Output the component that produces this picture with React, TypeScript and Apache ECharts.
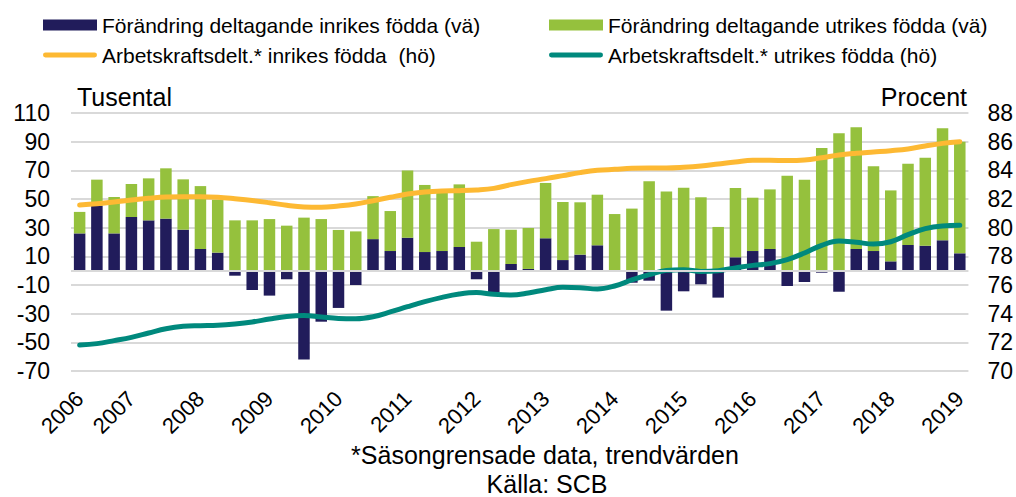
import React, { useEffect, useRef } from "react";
import * as echarts from "echarts";

const quarters = [
  "2006Q2", "2006Q3", "2006Q4",
  "2007Q1", "2007Q2", "2007Q3", "2007Q4",
  "2008Q1", "2008Q2", "2008Q3", "2008Q4",
  "2009Q1", "2009Q2", "2009Q3", "2009Q4",
  "2010Q1", "2010Q2", "2010Q3", "2010Q4",
  "2011Q1", "2011Q2", "2011Q3", "2011Q4",
  "2012Q1", "2012Q2", "2012Q3", "2012Q4",
  "2013Q1", "2013Q2", "2013Q3", "2013Q4",
  "2014Q1", "2014Q2", "2014Q3", "2014Q4",
  "2015Q1", "2015Q2", "2015Q3", "2015Q4",
  "2016Q1", "2016Q2", "2016Q3", "2016Q4",
  "2017Q1", "2017Q2", "2017Q3", "2017Q4",
  "2018Q1", "2018Q2", "2018Q3", "2018Q4",
  "2019Q1",
];

// Förändring deltagande inrikes födda (tusental, vänster axel)
const inrikesChange = [
  26, 45.3, 26, 37.4, 35.1, 36.3, 28.6, 15.1, 12.6, -3.5,
  -13.5, -17.4, -6, -61.9, -35.6, -26, -10, 22, 13.7, 23,
  13, 13.7, 16.5, -6, -15, 4.7, 1.2, 22.6, 7.4, 11.2,
  17.7, 0.3, -8.4, -7, -27.9, -14.4, -9.5, -18.8, 9.3, 13.7,
  15.1, -10.7, -7.9, -1.4, -14.7, 15.1, 13.7, 6.5, 17.9, 17.4,
  21.2, 12.1,
];

// Förändring deltagande utrikes födda (tusental, vänster axel)
const utrikesChange = [
  15, 18.2, 25.4, 23.1, 29.3, 35.1, 35.1, 43.9, 36.9, 35.1,
  35.1, 36, 31.4, 37, 36, 28.4, 27.4, 30, 27.9, 46.8,
  46.8, 41.3, 43.7, 20.2, 29, 23.9, 28.6, 38.6, 40.5, 36.5,
  35.3, 39.2, 43.3, 62.3, 55.3, 57.9, 51.2, 30.5, 48.4, 37.2,
  41.6, 66.3, 63.5, 85.6, 95.8, 84.9, 59.1, 49.5, 56.7, 61.4,
  78.1, 77.9,
];

// Arbetskraftsdeltagande inrikes födda (procent, höger axel)
const inrikesRate = [
  81.58, 81.67, 81.79, 81.93, 82.05, 82.14, 82.16, 82.16, 82.12, 82.02,
  81.9, 81.74, 81.56, 81.44, 81.42, 81.51, 81.65, 81.88, 82.12, 82.35,
  82.49, 82.56, 82.58, 82.63, 82.74, 83.0, 83.23, 83.42, 83.63, 83.84,
  84.0, 84.07, 84.14, 84.17, 84.16, 84.21, 84.3, 84.44, 84.58, 84.7,
  84.7, 84.68, 84.72, 84.88, 85.07, 85.19, 85.28, 85.37, 85.49, 85.7,
  85.88, 86.0,
];

// Arbetskraftsdeltagande utrikes födda (procent, höger axel)
const utrikesRate = [
  71.81, 71.91, 72.12, 72.35, 72.65, 72.95, 73.12, 73.16, 73.19, 73.28,
  73.42, 73.63, 73.81, 73.88, 73.77, 73.67, 73.65, 73.79, 74.12, 74.49,
  74.84, 75.14, 75.37, 75.47, 75.35, 75.3, 75.44, 75.67, 75.84, 75.81,
  75.72, 75.93, 76.35, 76.72, 77.02, 77.07, 76.95, 77.0, 77.19, 77.37,
  77.49, 77.77, 78.23, 78.77, 79.07, 78.98, 78.86, 79.02, 79.51, 79.93,
  80.12, 80.16,
];

const leftTickLabels = [-70, -50, -30, -10, 10, 30, 50, 70, 90, 110];
const rightTickLabels = [70, 72, 74, 76, 78, 80, 82, 84, 86, 88];

const seriesNames = [
  "Förändring deltagande inrikes födda (vä)",
  "Förändring deltagande utrikes födda (vä)",
  "Arbetskraftsdelt.* inrikes födda  (hö)",
  "Arbetskraftsdelt.* utrikes födda (hö)",
];

const FONT = "'Liberation Sans', Arial, sans-serif";
const NAVY = "#211C5B";
const GREEN = "#95C13D";
const ORANGE = "#FDB933";
const TEAL = "#00897D";
const GRID = "#D9D9D9";
const LINE_ICON =
  "path://M2.5,0 L52.5,0 A2.5,2.5 0 0 1 52.5,5 L2.5,5 A2.5,2.5 0 0 1 2.5,0 Z";

export default function App() {
  const ref = useRef<HTMLDivElement>(null);

  useEffect(() => {
    if (!ref.current) return;
    const chart = echarts.init(ref.current, undefined, { renderer: "svg" });
    const legendText = { fontSize: 21, color: "#000", fontFamily: FONT, lineHeight: 22 };
    const legendBase = {
      top: 14,
      orient: "vertical",
      padding: 0,
      itemGap: 8,
      itemWidth: 54,
      itemHeight: 11,
      textStyle: legendText,
    };
    chart.setOption({
      animation: false,
      textStyle: { fontFamily: FONT },
      legend: [
        {
          ...legendBase,
          left: 43,
          data: [
            { name: seriesNames[0], icon: "rect" },
            { name: seriesNames[2], icon: LINE_ICON },
          ],
        },
        {
          ...legendBase,
          left: 549,
          data: [
            { name: seriesNames[1], icon: "rect" },
            { name: seriesNames[3], icon: LINE_ICON },
          ],
        },
      ],
      grid: { left: 71, right: 47, top: 113, bottom: 126, containLabel: false },
      xAxis: {
        type: "category",
        data: quarters,
        boundaryGap: true,
        axisLine: { show: false },
        axisTick: { show: false },
        splitLine: { show: false },
        axisLabel: {
          interval: 0,
          rotate: 45,
          margin: 24,
          fontSize: 22,
          color: "#000",
          fontFamily: FONT,
          formatter: (v: string, i: number) =>
            i === 0 || v.endsWith("Q1") ? v.slice(0, 4) : "",
        },
      },
      yAxis: [
        {
          type: "value",
          min: -70,
          max: 110,
          interval: 10,
          axisLine: { show: false },
          axisTick: { show: false },
          splitLine: { show: false },
          axisLabel: {
            margin: 21,
            fontSize: 23,
            color: "#000",
            fontFamily: FONT,
            formatter: (v: number) =>
              leftTickLabels.indexOf(Math.round(v)) >= 0 ? String(Math.round(v)) : "",
          },
        },
        {
          type: "value",
          min: 70,
          max: 88,
          interval: 2,
          position: "right",
          axisLine: { show: false },
          axisTick: { show: false },
          splitLine: { show: true, lineStyle: { color: GRID, width: 2 } },
          axisLabel: {
            margin: 19,
            fontSize: 23,
            color: "#000",
            fontFamily: FONT,
            formatter: (v: number) =>
              rightTickLabels.indexOf(Math.round(v)) >= 0 ? String(Math.round(v)) : "",
          },
        },
      ],
      series: [
        {
          name: seriesNames[0],
          type: "bar",
          stack: "change",
          yAxisIndex: 0,
          barWidth: 11.5,
          data: inrikesChange,
          itemStyle: { color: NAVY },
          markLine: {
            silent: true,
            symbol: "none",
            label: { show: false },
            lineStyle: { color: GRID, width: 2, type: "solid" },
            data: [{ yAxis: 0 }],
          },
        },
        {
          name: seriesNames[1],
          type: "bar",
          stack: "change",
          yAxisIndex: 0,
          barWidth: 11.5,
          data: utrikesChange,
          itemStyle: { color: GREEN },
        },
        {
          name: seriesNames[2],
          type: "line",
          yAxisIndex: 1,
          data: inrikesRate,
          smooth: 0.4,
          symbol: "none",
          lineStyle: { color: ORANGE, width: 5, cap: "round" },
          itemStyle: { color: ORANGE },
        },
        {
          name: seriesNames[3],
          type: "line",
          yAxisIndex: 1,
          data: utrikesRate,
          smooth: 0.4,
          symbol: "none",
          lineStyle: { color: TEAL, width: 5, cap: "round" },
          itemStyle: { color: TEAL },
        },
      ],
      graphic: [
        {
          type: "text",
          x: 77,
          y: 97,
          style: { text: "Tusental", fontSize: 25, fontFamily: FONT, fill: "#000", align: "left", verticalAlign: "middle" },
        },
        {
          type: "text",
          x: 967,
          y: 97,
          style: { text: "Procent", fontSize: 25, fontFamily: FONT, fill: "#000", align: "right", verticalAlign: "middle" },
        },
        {
          type: "text",
          x: 545,
          y: 455,
          style: { text: "*Säsongrensade data, trendvärden", fontSize: 25, fontFamily: FONT, fill: "#000", align: "center", verticalAlign: "middle" },
        },
        {
          type: "text",
          x: 547,
          y: 484,
          style: { text: "Källa: SCB", fontSize: 25, fontFamily: FONT, fill: "#000", align: "center", verticalAlign: "middle" },
        },
      ],
    });
    return () => chart.dispose();
  }, []);

  return (
    <div
      ref={ref}
      style={{ position: "fixed", left: 0, top: 0, width: 1016, height: 497, background: "#fff" }}
    />
  );
}
